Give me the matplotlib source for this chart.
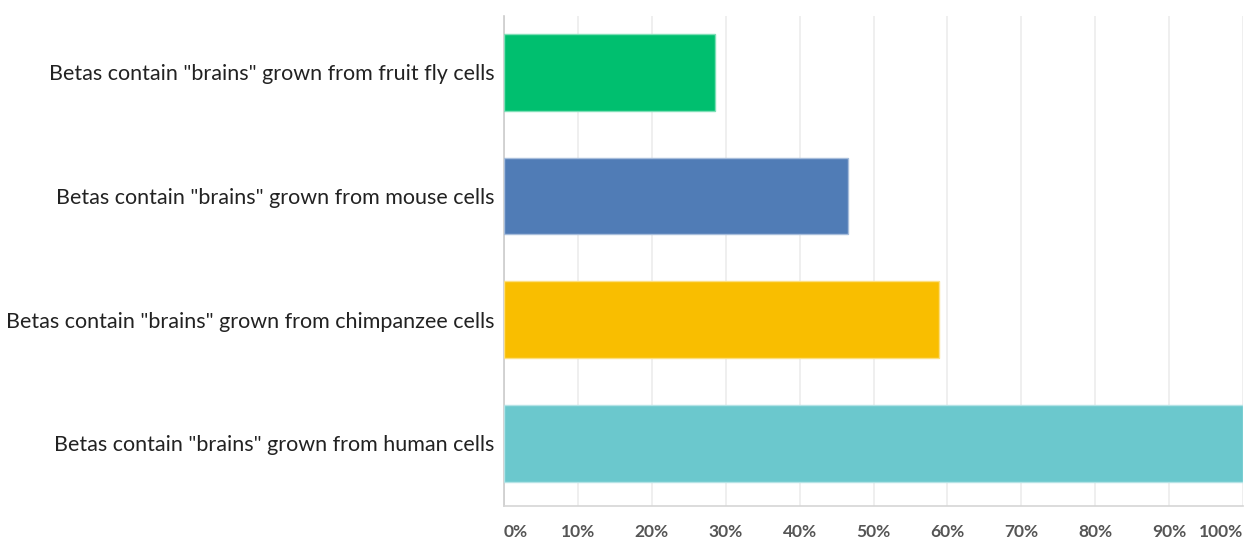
import numpy as np
import matplotlib.pyplot as plt

categories = ['Betas contain "brains" grown from fruit fly cells',
              'Betas contain "brains" grown from mouse cells',
              'Betas contain "brains" grown from chimpanzee cells',
              'Betas contain "brains" grown from human cells']
values = [28.5, 46.6, 58.9, 100.0]
colors = ['#00BF6F', '#507CB6', '#F9BE00', '#6BC8CD']
edge_colors = ['#7fdfb7', '#a7bddb', '#fcdf80', '#b5e3e6']
ticks = np.arange(0, 101, 10)
tick_labels = ['%d%%' % t for t in ticks]

fig = plt.figure(figsize=(12.47, 5.42), dpi=100)
ax = fig.add_axes([504 / 1247, 1 - 506 / 542, (1243 - 504) / 1247, 490 / 542])

y = np.arange(len(categories))
ax.barh(y, values, height=0.62, color=colors, edgecolor=edge_colors, linewidth=1, zorder=3)

ax.set_xlim(0, 100)
ax.set_ylim(3.507, -0.455)
ax.set_yticks(y)
ax.set_yticklabels(categories, fontsize=15.5, family='Lato', color='#222222')
ax.set_xticks(ticks)
ax.set_xticklabels(tick_labels, fontsize=12.5, family='Lato', fontweight='bold', color='#555555')
xl = ax.get_xticklabels()
xl[0].set_horizontalalignment('left')
xl[-1].set_horizontalalignment('right')

ax.tick_params(axis='y', length=0, pad=7)
ax.tick_params(axis='x', length=0, pad=13)
ax.grid(axis='x', color='#ececec', linewidth=1.2, zorder=0)
for s in ['top', 'right']:
    ax.spines[s].set_visible(False)
ax.spines['left'].set_color('#cccccc')
ax.spines['bottom'].set_color('#d5d5d5')
ax.spines['left'].set_linewidth(1.2)
ax.spines['bottom'].set_linewidth(1.2)

fig.savefig('out.png', dpi=100)
